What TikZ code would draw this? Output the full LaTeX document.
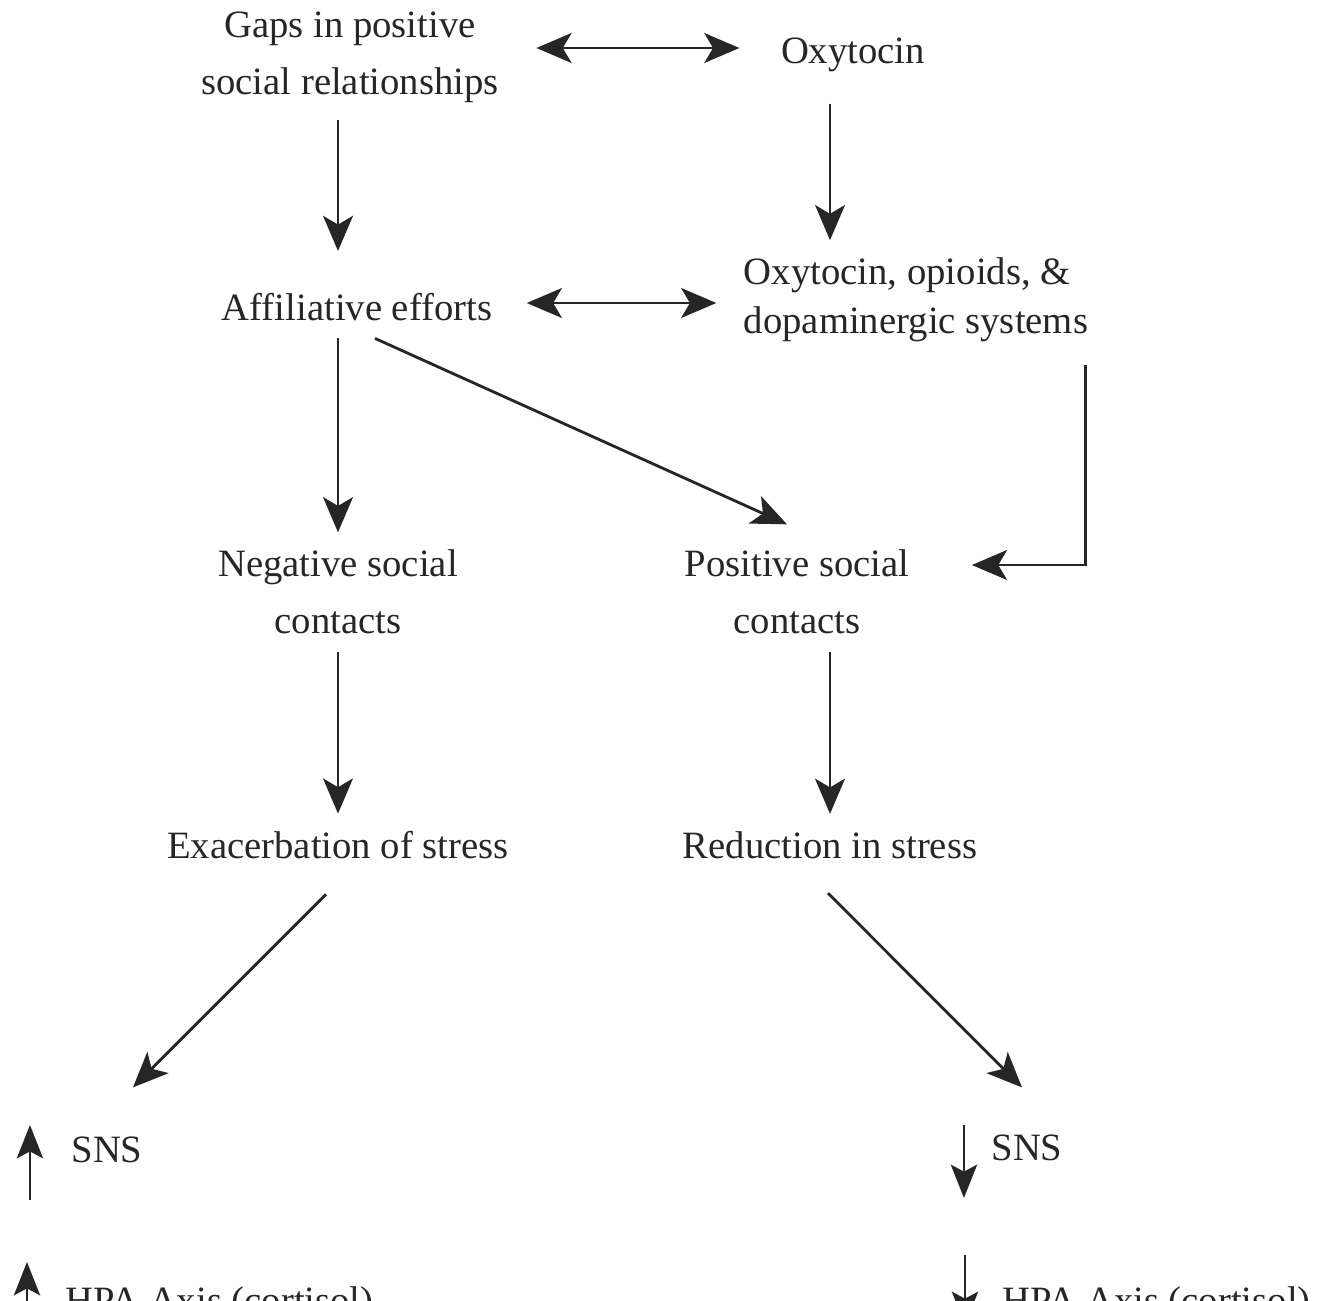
\documentclass[tikz,border=0pt]{standalone}
\usepackage{fontspec}
\setmainfont{Liberation Serif}
\usetikzlibrary{arrows.meta,calc}
\begin{document}
\begin{tikzpicture}[x=0.01cm,y=-0.01cm,
    every node/.style={font=\fontsize{11}{16.2}\selectfont, text=black!85, inner sep=2pt, outer sep=3pt},
    arr/.style={-{Stealth[length=10pt,width=8.5pt,inset=2.5pt]}, line width=0.8pt, draw=black!85},
    dbl/.style={arr, {Stealth[length=10pt,width=8.5pt,inset=2.5pt]}-{Stealth[length=10pt,width=8.5pt,inset=2.5pt]}},
    tick/.style={-{Stealth[length=9.5pt,width=7.5pt,inset=2pt]}, line width=0.5pt, draw=black!85}]
    \useasboundingbox (0,0) rectangle (1322,1300);
    \clip (0,0) rectangle (1322,1300);
    \node[align=center] (gaps) at (350,57) {Gaps in positive\\social relationships};
    \node (oxy) at (853,55) {Oxytocin};
    \node (affil) at (357,307) {Affiliative efforts};
    \node[align=left, font=\fontsize{11}{14}\selectfont] (sys) at (916,300) {Oxytocin, opioids, \&\\dopaminergic systems};
    \node[align=center] (neg) at (338,592) {Negative social\\contacts};
    \node[align=center] (pos) at (797,592) {Positive social\\contacts};
    \node (exac) at (338,845) {Exacerbation of stress};
    \node (red) at (830,845) {Reduction in stress};
    \node (snsL) at (107,1150) {SNS};
    \node[anchor=base west] (hpaL) at (48,1313) {HPA Axis (cortisol)};
    \node (snsR) at (1027,1148) {SNS};
    \node[anchor=base west] (hpaR) at (985,1313) {HPA Axis (cortisol)};
    \draw[dbl] ($(gaps.east)+(20,-9)$) -- ($(oxy.west)+(-24,-7)$);
    \draw[dbl] ($(affil.east)+(17,-4)$) -- ($(sys.west)+(-10,3)$);
    \draw[arr, shorten >=7pt] (gaps.south -| neg) -- (affil.north -| neg);
    \draw[arr, shorten <=4pt] (oxy.south -| red) -- (sys.north -| red);
    \draw[arr] (affil.south -| neg) -- (neg.north);
    \draw[arr] ($(affil.south)+(18,0)$) -- ($(pos.north)+(-10,-8)$);
    \draw[arr] ($(sys.south east)+(-20,5)$) |- ($(pos.east)+(45,-27)$);
    \draw[arr] (neg.south) -- (exac.north);
    \draw[arr] (pos.south -| red) -- (red.north);
    \draw[arr] ($(exac.south)+(-12,18)$) -- ($(snsL.north)+(26,-32)$);
    \draw[arr] ($(red.south)+(-2,17)$) -- ($(snsR.north)+(-5,-30)$);
    \draw[tick] ($(snsL.west)+(-24,50)$) -- ($(snsL.west)+(-24,-25)$);
    \draw[tick] ($(hpaL.base west)+(-21,30)$) -- ($(hpaL.base west)+(-21,-51)$);
    \draw[tick] ($(snsR.west)+(-10,-23)$) -- ($(snsR.west)+(-10,50)$);
    \draw[tick] ($(hpaR.base west)+(-20,-58)$) -- ($(hpaR.base west)+(-20,12)$);
\end{tikzpicture}
\end{document}
